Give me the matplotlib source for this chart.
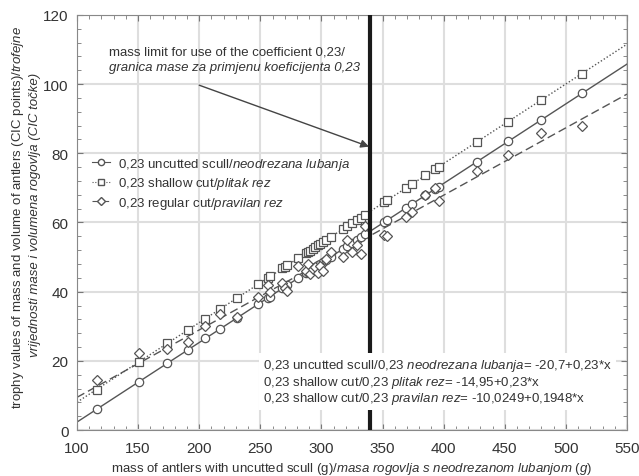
import numpy as np
import matplotlib
matplotlib.use("Agg")
import matplotlib.pyplot as plt
from matplotlib.ticker import MultipleLocator
from matplotlib.lines import Line2D

plt.rcParams['font.family'] = ['Liberation Sans', 'DejaVu Sans']
plt.rcParams['mathtext.fontset'] = 'custom'
plt.rcParams['mathtext.rm'] = 'Liberation Sans'
plt.rcParams['mathtext.it'] = 'Liberation Sans:italic'

# mass of antlers with uncutted scull (g)
mass = [116, 151, 174, 191, 205, 217, 231, 248, 256, 258, 268, 270, 272, 281,
        287, 289, 291, 293, 295, 297, 299, 301, 304, 308, 318, 321, 325, 329,
        332, 336, 351, 354, 369, 374, 385, 393, 396, 427, 453, 480, 513]
# CIC points, uncutted scull
uncut = [6.0, 14.0, 19.3, 23.2, 26.5, 29.2, 32.4, 36.3, 38.2, 38.6, 41.0, 41.4,
         41.9, 43.9, 45.3, 45.8, 46.2, 46.7, 47.2, 47.6, 48.1, 48.5, 49.2, 50.1,
         52.4, 53.1, 54.1, 55.0, 55.7, 56.6, 60.0, 60.7, 64.2, 65.3, 67.9, 69.7,
         70.4, 77.5, 83.5, 89.7, 97.3]
# CIC points, shallow cut
shallow = [11.7, 19.8, 25.1, 29.0, 32.2, 34.9, 38.2, 42.1, 43.9, 44.4, 46.7,
           47.2, 47.6, 49.7, 51.1, 51.5, 51.9, 52.4, 52.9, 53.4, 53.8, 54.3,
           54.9, 55.9, 58.2, 58.9, 59.8, 60.7, 61.4, 62.3, 65.8, 66.5, 69.9,
           71.1, 73.6, 75.4, 76.1, 83.3, 89.2, 95.4, 103.0]
# CIC points, regular cut
regular = [14.6, 22.2, 23.5, 25.5, 30.0, 33.5, 32.6, 38.6, 42.0, 40.0, 42.5,
           41.0, 40.2, 47.5, 46.0, 48.0, 45.2, 46.5, 47.0, 45.5, 47.5, 46.0,
           49.5, 51.5, 50.0, 55.0, 51.5, 53.5, 51.0, 59.0, 56.4, 56.2, 61.7,
           63.0, 68.0, 70.0, 66.2, 74.8, 79.6, 86.0, 87.9]

# fitted lines (intercept, slope)
fit_uncut = (-20.7, 0.23)
fit_shallow = (-14.95, 0.23)
fit_regular = (-10.0249, 0.1948)

mass_limit = 340

GRAY = '#555555'
TXT = '#333333'
LS_UNCUT = '-'
LS_SHALLOW = (0, (1, 1.5))
LS_REGULAR = (0, (6, 3))


def it(s):
    # italic part via mathtext
    return r'$\mathit{' + s.replace(' ', r'\ ').replace(',', '{,}') + '}$'


fig = plt.figure(figsize=(6.39, 4.77), dpi=100)
ax = fig.add_axes([0.1205, 0.0964, 0.8607, 0.8701])

xx = np.array([100, 550])
ax.plot(xx, fit_uncut[0] + fit_uncut[1] * xx, color=GRAY, lw=1.0, ls=LS_UNCUT, zorder=2)
ax.plot(xx, fit_shallow[0] + fit_shallow[1] * xx, color=GRAY, lw=1.0, ls=LS_SHALLOW, zorder=2)
ax.plot(xx, fit_regular[0] + fit_regular[1] * xx, color=GRAY, lw=1.0, ls=LS_REGULAR, zorder=2)

mk = dict(ls='none', mfc='white', mec=GRAY, mew=0.9, zorder=3)
ax.plot(mass, uncut, marker='o', ms=6, **mk)
ax.plot(mass, shallow, marker='s', ms=6, **mk)
ax.plot(mass, regular, marker='D', ms=5.2, **mk)

ax.axvline(mass_limit, color='#1a1a1a', lw=3, zorder=4)

ax.set_xlim(100, 550)
ax.set_ylim(0, 120)
ax.xaxis.set_major_locator(MultipleLocator(50))
ax.xaxis.set_minor_locator(MultipleLocator(10))
ax.yaxis.set_major_locator(MultipleLocator(20))
ax.yaxis.set_minor_locator(MultipleLocator(4))
ax.grid(True, which='major', color='#dedede', lw=1.5, zorder=0)
ax.set_axisbelow(True)
ax.tick_params(which='both', direction='in', top=True, right=True, colors='#777777',
               labelcolor=TXT, labelsize=11)
ax.tick_params(which='major', length=4)
ax.tick_params(which='minor', length=3)
ax.tick_params(axis='x', pad=8)
ax.tick_params(axis='y', pad=6)
for s in ax.spines.values():
    s.set_color('#888888')

fig.text(0.551, 0.017, 'mass of antlers with uncutted scull (g)/' + it('masa rogovlja s neodrezanom lubanjom (g)'),
         ha='center', va='center', fontsize=9.5, color=TXT)
fig.text(0.028, 0.545, 'trophy values of mass and volume of antlers (CIC points)/' + it('trofejne'),
         rotation=90, ha='center', va='center', fontsize=9.5, color=TXT)
fig.text(0.055, 0.55, 'vrijednosti mase i volumena rogovlja (CIC točke)', style='italic',
         rotation=90, ha='center', va='center', fontsize=9.5, color=TXT)

ax.annotate('', xy=(mass_limit, 81.8), xytext=(200, 99.7),
            arrowprops=dict(arrowstyle='-|>', color='#444444', lw=1.0,
                            mutation_scale=12, shrinkA=0, shrinkB=1), zorder=5)
ax.text(126, 109.5, 'mass limit for use of the coefficient 0,23/', fontsize=9.5,
        color=TXT, va='center')
ax.text(126, 104.9, 'granica mase za primjenu koeficijenta 0,23', fontsize=9.5,
        color=TXT, va='center', style='italic')

handles = [Line2D([], [], color=GRAY, lw=0.8, ls=LS_UNCUT, marker='o', ms=4.5, mfc='white', mec=GRAY),
           Line2D([], [], color=GRAY, lw=0.8, ls=LS_SHALLOW, marker='s', ms=4.5, mfc='white', mec=GRAY),
           Line2D([], [], color=GRAY, lw=0.8, ls=LS_REGULAR, marker='D', ms=4, mfc='white', mec=GRAY)]
leg = ax.legend(handles,
                ['0,23 uncutted scull/' + it('neodrezana lubanja'),
                 '0,23 shallow cut/' + it('plitak rez'),
                 '0,23 regular cut/' + it('pravilan rez')],
                loc='upper left', bbox_to_anchor=(0.027, 0.66), frameon=False,
                fontsize=9.5, handlelength=1.4, handletextpad=0.6, labelspacing=0.25,
                borderaxespad=0, borderpad=0)
for t in leg.get_texts():
    t.set_color(TXT)

eq = ('0,23 uncutted scull/' + it('0,23 neodrezana lubanja') + '= -20,7+0,23*x\n'
      '0,23 shallow cut/' + it('0,23 plitak rez') + '= -14,95+0,23*x\n'
      '0,23 shallow cut/' + it('0,23 pravilan rez') + '= -10,0249+0,1948*x')
ax.text(252, 13.9, eq, fontsize=9.5, color=TXT, va='center', linespacing=1.05,
        bbox=dict(boxstyle='square,pad=0.3', fc='white', ec='none'), zorder=6)

fig.savefig('out.png', dpi=100)
